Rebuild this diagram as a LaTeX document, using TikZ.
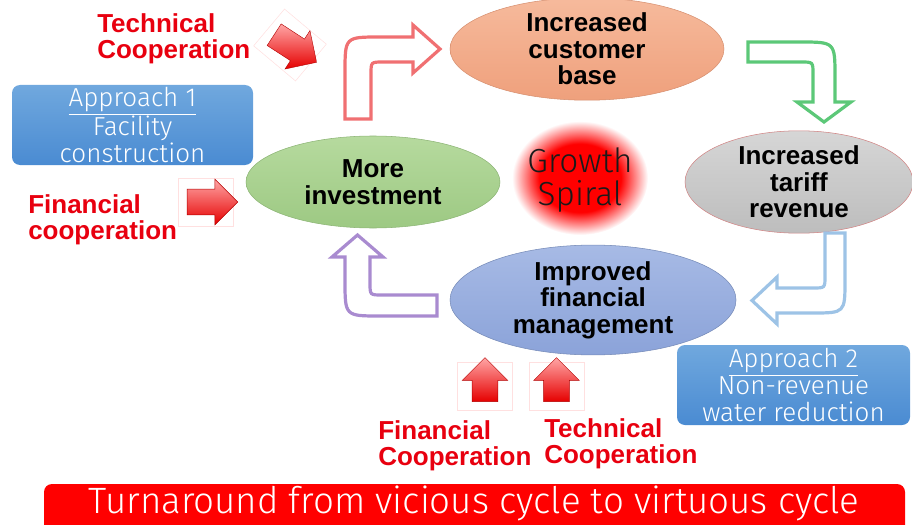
\documentclass[tikz,border=0pt]{standalone}
\usepackage{fontspec}
\setmainfont{Liberation Sans}
\newfontfamily\thinfont{Fira Sans Light}
\usetikzlibrary{shapes.geometric,shapes.arrows}

\definecolor{custtop}{HTML}{F6BA9C}
\definecolor{custbot}{HTML}{EFA07C}
\definecolor{invtop}{HTML}{B6DA9E}
\definecolor{invbot}{HTML}{9DC983}
\definecolor{tartop}{HTML}{D6D6D6}
\definecolor{tarbot}{HTML}{BDBDBD}
\definecolor{fintop}{HTML}{A7BAE5}
\definecolor{finbot}{HTML}{8BA3D9}
\definecolor{apptop}{HTML}{70A8DE}
\definecolor{appbot}{HTML}{4A8BD2}
\definecolor{pinkline}{HTML}{F07072}
\definecolor{greenline}{HTML}{5CC878}
\definecolor{blueline}{HTML}{9DC3E6}
\definecolor{purpleline}{HTML}{A98BD0}
\definecolor{coopred}{HTML}{E8000F}
\definecolor{spiraltext}{HTML}{1A1A1A}

\pgfdeclareradialshading{glow}{\pgfpointorigin}{color(0bp)=(red); color(15bp)=(red); color(25bp)=(white); color(50bp)=(white)}

\tikzset{
  stage/.style = {ellipse, inner sep=0pt, align=center, font=\bfseries\fontsize{19.5}{20}\selectfont},
  approach/.style = {rectangle, rounded corners=6pt, inner sep=0pt, align=center,
    top color=apptop, bottom color=appbot, text=white,
    font=\thinfont\fontsize{19.5}{20}\selectfont, minimum height=60pt},
  cooplabel/.style = {anchor=west, align=left, inner sep=0pt, text=coopred,
    font=\bfseries\fontsize{19.5}{19.5}\selectfont},
  coopbox/.style = {draw=red!12, fill=white, line width=0.4pt, minimum width=41pt, minimum height=36pt, inner sep=0pt},
  coop/.style = {single arrow, draw=red!70!black, line width=0.3pt, inner xsep=0pt, inner ysep=9.5pt,
    top color=red!35!white, bottom color=red!90!black,
    minimum height=38pt, single arrow head extend=7.5pt},
  coopup/.style = {coop, rotate=90, minimum height=33pt},
  bent/.style = {draw=#1, line width=2.4pt, fill=white, line join=miter}
}

\begin{document}
\begin{tikzpicture}[x = 0.75pt, y = -0.75pt]
    \useasboundingbox (0,0) rectangle (912,524);

    % growth spiral in the middle
    \shade[shading=glow] (580,178) ellipse [x radius=68, y radius=57];
    \node[font=\thinfont\fontsize{25}{25}\selectfont, text=spiraltext, align=center] (spiral) at (580,180) {Growth\\Spiral};

    % the four stages of the cycle
    \node[stage, minimum width=205.5pt, minimum height=69pt, top color=custtop, bottom color=custbot, draw=custbot!90!black] (cust) at (587,49) {Increased\\customer\\base};
    \node[stage, minimum width=190.5pt, minimum height=69pt, top color=invtop, bottom color=invbot, draw=invbot!90!black] (invest) at (373,182) {More\\investment};
    \node[stage, minimum width=171pt, minimum height=70.5pt, top color=tartop, bottom color=tarbot, draw=red!30!tarbot] (tariff) at (799,182) {Increased\\tariff\\revenue};
    \node[stage, minimum width=214.5pt, minimum height=67.5pt, top color=fintop, bottom color=finbot, draw=finbot!85!black] (finmgmt) at (593,300) {Improved\\financial\\management};

    % bent arrows between the stages
    \draw[bent=pinkline] (345,119) -- (345,72) .. controls (345,37) .. (380,37) -- (413,37) -- (413,25) -- (440,49) -- (413,73) -- (413,62) -- (383,62) .. controls (371,62) .. (371,74) -- (371,119) -- cycle;
    \draw[bent=greenline] (748,42) -- (800,42) .. controls (835,42) .. (835,77) -- (835,102) -- (851,102) -- (824,122) -- (797,102) -- (813,102) -- (813,74) .. controls (813,62) .. (801,62) -- (748,62) -- cycle;
    \draw[bent=blueline] (825,233) -- (845,233) -- (845,280) .. controls (845,313) .. (812,313) -- (777,313) -- (777,324) -- (752,300.5) -- (777,277) -- (777,288) -- (813,288) .. controls (825,288) .. (825,276) -- cycle;
    \draw[bent=purpleline] (437,295) -- (437,316) -- (380,316) .. controls (345,316) .. (345,281) -- (345,257) -- (332,257) -- (357.5,235) -- (383,257) -- (370,257) -- (370,283) .. controls (370,295) .. (382,295) -- cycle;

    % approaches
    \node[approach, minimum width=180.75pt] (appr1) at (132.5,125) {\underline{Approach 1}\\Facility\\construction};
    \node[approach, minimum width=174.75pt] (appr2) at (793.5,385) {\underline{Approach 2}\\Non-revenue\\water reduction};

    % cooperation arrows and labels
    \node[coopbox, rotate=-40] (tcbox1) at (290,45) {};
    \node[coop, rotate=-33] (tcarr1) at (tcbox1) {};
    \node[coopbox] (fcbox1) at (206,202) {};
    \node[coop] (fcarr1) at (fcbox1) {};
    \node[coopbox] (fcbox2) at (485,386) {};
    \node[coopup] (fcarr2) at (fcbox2) {};
    \node[coopbox] (tcbox2) at (556.5,386) {};
    \node[coopup] (tcarr2) at (tcbox2) {};

    \node[cooplabel] (tc1) at (97,39) {Technical\\Cooperation};
    \node[cooplabel] (fc1) at (28,220) {Financial\\cooperation};
    \node[cooplabel] (fc2) at (378,446) {Financial\\Cooperation};
    \node[cooplabel] (tc2) at (544,444) {Technical\\Cooperation};

    % banner at the bottom
    \fill[red, rounded corners=6pt] (44,484) rectangle (905,545);
    \node[text=white, font=\thinfont\fontsize{27.5}{30}\selectfont] (banner) at (474,503) {Turnaround from vicious cycle to virtuous cycle};
\end{tikzpicture}
\end{document}
